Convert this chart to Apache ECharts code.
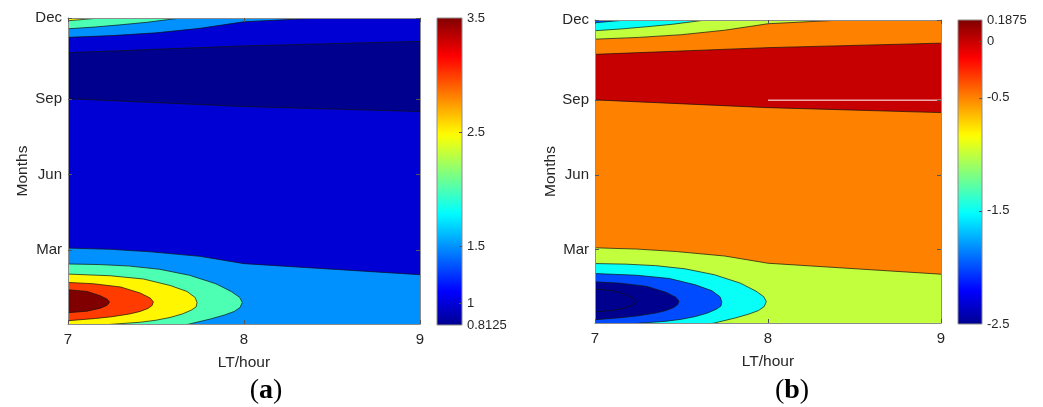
<!DOCTYPE html>
<html>
<head>
<meta charset="utf-8">
<script src="https://cdn.jsdelivr.net/npm/echarts@6/dist/echarts.min.js"></script>
<style>
html,body{margin:0;padding:0;background:#fff;}
#chart{width:1043px;height:407px;}
</style>
</head>
<body>
<div id="chart"></div>
<script>
// ---------- data ----------
const LT_TICKS = [7, 8, 9];
const MONTH_TICKS = [2.95, 5.95, 8.95, 12.17];
const MONTH_LABELS = ['Mar', 'Jun', 'Sep', 'Dec'];
const MONTH_RANGE = [0, 12.17];
const LT_RANGE = [7, 9];

const CB_A_RANGE = [0.8125, 3.5];
const CB_A_LABELS = [0.8125, 1, 1.5, 2.5, 3.5];
const CB_B_RANGE = [-2.5, 0.1875];
const CB_B_LABELS = [-2.5, -1.5, -0.5, 0, 0.1875];

// contour lines, points are [LT hour, month]
const line1Upper = [[6.95,10.78],[7,10.79],[8,11.06],[9,11.24],[9.05,11.25]];
const line1Lower = [[6.95,8.98],[7,8.96],[8,8.65],[9,8.45],[9.05,8.44]];
const line1Corner = [[8.5,-0.05],[8.6,0],[9,0.2],[9.05,0.22]];
const line15Top = [[6.95,11.38],[7,11.40],[7.25,11.47],[7.5,11.58],[7.75,11.76],[8,12.02],[8.43,12.17],[8.6,12.22]];
const line2Top = [[6.95,11.72],[7,11.74],[7.15,11.81],[7.3,11.9],[7.45,12.0],[7.64,12.17],[7.7,12.22]];
const line25Top = [[6.95,12.03],[7,12.06],[7.1,12.12],[7.18,12.17],[7.25,12.22]];
const line15Bottom = [[6.95,3.03],[7,3.02],[7.24,2.97],[7.47,2.87],[7.75,2.69],[8,2.40],[9,1.96],[9.05,1.94]];
const line2Loop = [[6.95,2.39],[7,2.388],[7.18,2.364],[7.35,2.304],[7.52,2.177],[7.69,1.939],[7.84,1.601],[7.93,1.283],[7.975,1.06],[7.99,0.86],[7.978,0.66],[7.945,0.50],[7.89,0.36],[7.81,0.2],[7.69,0],[7.58,-0.15]];
const line25Loop = [[6.95,1.99],[7,1.986],[7.24,1.919],[7.43,1.788],[7.58,1.533],[7.676,1.295],[7.723,1.05],[7.733,0.85],[7.728,0.68],[7.70,0.55],[7.65,0.40],[7.58,0.26],[7.5,0.15],[7.41,0.07],[7.27,0],[7.15,-0.06]];
const line3Loop = [[6.95,1.67],[7,1.653],[7.145,1.601],[7.3,1.47],[7.41,1.232],[7.467,1.033],[7.485,0.88],[7.478,0.74],[7.455,0.62],[7.41,0.5],[7.35,0.40],[7.25,0.29],[7.157,0.22],[7,0.13],[6.95,0.11]];
const line35Loop = [[6.95,1.38],[7,1.363],[7.108,1.295],[7.183,1.124],[7.223,0.985],[7.236,0.87],[7.223,0.747],[7.183,0.628],[7.108,0.509],[7,0.449],[6.95,0.44]];

// filled regions in paint order (same contour geometry in both panels)
const regionShapes = [
  {kind:'all'},
  {kind:'band', upper: line1Upper, lower: line1Lower},
  {kind:'below', line: line1Corner},
  {kind:'above', line: line15Top},
  {kind:'above', line: line2Top},
  {kind:'above', line: line25Top},
  {kind:'below', line: line15Bottom},
  {kind:'loop', line: line2Loop},
  {kind:'loop', line: line25Loop},
  {kind:'loop', line: line3Loop},
  {kind:'loop', line: line35Loop}
];
const regionValuesA = [1, 0.8125, 0.8125, 1.5, 2, 2.5, 1.5, 2, 2.5, 3, 3.5];
const regionValuesB = [-0.5, 0, 0, -1, -1.5, -2, -1, -1.5, -2, -2.5, -2.5];

const whiteLineB = [[8, 8.95], [9, 8.95]];

// ---------- helpers ----------
const OUT_X = [6.5, 9.5], OUT_Y = [-1, 13.5];
function regionPolygon(r) {
  if (r.kind === 'all') return [[OUT_X[0],OUT_Y[0]],[OUT_X[1],OUT_Y[0]],[OUT_X[1],OUT_Y[1]],[OUT_X[0],OUT_Y[1]]];
  if (r.kind === 'band') return r.upper.concat(r.lower.slice().reverse());
  const l = r.line, f = l[0], e = l[l.length-1];
  if (r.kind === 'above') return l.concat([[e[0], OUT_Y[1]], [f[0], OUT_Y[1]]]);
  if (r.kind === 'below') return l.concat([[e[0], OUT_Y[0]], [f[0], OUT_Y[0]]]);
  return l.concat([[f[0], e[1]]]);
}
function jet(t) {
  t = Math.min(1, Math.max(0, t));
  const u = (1 + 63 * t) / 64;
  const f = c => Math.round(255 * Math.min(1, Math.max(0, 1.5 - Math.abs(4 * u - c))));
  return 'rgb(' + f(3) + ',' + f(2) + ',' + f(1) + ')';
}
const FONT = 'Liberation Sans, Arial, Helvetica, sans-serif';
const TXT = '#262626';
const BOX = '#8c8c8c';

function contourSeries(xi, yi, values, range) {
  return {
    type: 'custom', xAxisIndex: xi, yAxisIndex: yi, clip: true, silent: true, z: 2,
    data: regionShapes.map((r, i) => [i]),
    renderItem: function (params, api) {
      const i = params.dataIndex;
      const pts = regionPolygon(regionShapes[i]).map(p => api.coord(p));
      const cs = params.coordSys;
      return {
        type: 'group',
        clipPath: {type: 'rect', shape: {x: cs.x, y: cs.y, width: cs.width, height: cs.height}},
        children: [{
          type: 'polygon', shape: {points: pts},
          style: {fill: jet((values[i] - range[0]) / (range[1] - range[0])),
                  stroke: i === 0 ? null : '#111', lineWidth: 0.7}
        }]
      };
    }
  };
}
function colorbarSeries(xi, yi, range) {
  const stops = [];
  for (let k = 0; k <= 64; k++) { const o = k / 64; stops.push({offset: o, color: jet(1 - o)}); }
  return {
    type: 'custom', xAxisIndex: xi, yAxisIndex: yi, silent: true, z: 2,
    data: [[0]],
    renderItem: function (params, api) {
      const p0 = api.coord([0, range[1]]), p1 = api.coord([1, range[0]]);
      return {
        type: 'rect',
        shape: {x: p0[0], y: p0[1], width: p1[0] - p0[0], height: p1[1] - p0[1]},
        style: {fill: {type: 'linear', x: 0, y: 0, x2: 0, y2: 1, colorStops: stops}, stroke: BOX, lineWidth: 1}
      };
    }
  };
}
function xAxes(gi) {
  return [{
    type: 'value', gridIndex: gi, min: LT_RANGE[0], max: LT_RANGE[1], interval: 1, z: 10,
    name: 'LT/hour', nameLocation: 'middle', nameGap: 31,
    nameTextStyle: {color: TXT, fontSize: 15.5, fontFamily: FONT},
    axisLine: {show: true, onZero: false, lineStyle: {color: BOX}},
    axisTick: {show: true, inside: true, length: 4, lineStyle: {color: '#555'}},
    axisLabel: {color: TXT, fontSize: 15, fontFamily: FONT, margin: 8},
    splitLine: {show: false}
  }, {
    type: 'value', gridIndex: gi, position: 'top', min: LT_RANGE[0], max: LT_RANGE[1], interval: 1, z: 10,
    axisLine: {show: true, onZero: false, lineStyle: {color: BOX}},
    axisTick: {show: true, inside: true, length: 4, lineStyle: {color: '#555'}},
    axisLabel: {show: false}, splitLine: {show: false}
  }];
}
function yAxes(gi, nameGap) {
  return [{
    type: 'value', gridIndex: gi, min: MONTH_RANGE[0], max: MONTH_RANGE[1], z: 10,
    name: 'Months', nameLocation: 'middle', nameGap: nameGap,
    nameTextStyle: {color: TXT, fontSize: 15.5, fontFamily: FONT},
    axisLine: {show: true, onZero: false, lineStyle: {color: BOX}},
    axisTick: {show: true, inside: true, length: 4, customValues: MONTH_TICKS, lineStyle: {color: '#555'}},
    axisLabel: {color: TXT, fontSize: 15, fontFamily: FONT, margin: 6, customValues: MONTH_TICKS,
      formatter: v => { let b = 0; MONTH_TICKS.forEach((m, k) => { if (Math.abs(m - v) < Math.abs(MONTH_TICKS[b] - v)) b = k; }); return MONTH_LABELS[b]; }},
    splitLine: {show: false}
  }, {
    type: 'value', gridIndex: gi, position: 'right', min: MONTH_RANGE[0], max: MONTH_RANGE[1], z: 10,
    axisLine: {show: true, onZero: false, lineStyle: {color: BOX}},
    axisTick: {show: true, inside: true, length: 4, customValues: MONTH_TICKS, lineStyle: {color: '#555'}},
    axisLabel: {show: false}, splitLine: {show: false}
  }];
}
function cbX(gi) {
  return {type: 'value', gridIndex: gi, min: 0, max: 1, show: false, axisLine: {onZero: false}};
}
function cbY(gi, range, labels) {
  return {
    type: 'value', gridIndex: gi, position: 'right', min: range[0], max: range[1], z: 10,
    axisLine: {show: false, onZero: false},
    axisTick: {show: true, inside: true, length: 3, customValues: labels.slice(1, -1), lineStyle: {color: '#555'}},
    axisLabel: {color: TXT, fontSize: 13, fontFamily: FONT, margin: 5, customValues: labels, formatter: v => String(v)},
    splitLine: {show: false}
  };
}

const chart = echarts.init(document.getElementById('chart'), null, {renderer: 'canvas'});
chart.setOption({
  animation: false,
  backgroundColor: '#fff',
  grid: [
    {left: 68, top: 18, width: 352, height: 306, outerBoundsMode: 'none'},
    {left: 437, top: 18, width: 25, height: 307, outerBoundsMode: 'none'},
    {left: 595, top: 20, width: 346, height: 303, outerBoundsMode: 'none'},
    {left: 958, top: 20, width: 24, height: 304, outerBoundsMode: 'none'}
  ],
  xAxis: [].concat(xAxes(0), [cbX(1)], xAxes(2), [cbX(3)]),
  yAxis: [].concat(yAxes(0, 37), [cbY(1, CB_A_RANGE, CB_A_LABELS)], yAxes(2, 35), [cbY(3, CB_B_RANGE, CB_B_LABELS)]),
  series: [
    contourSeries(0, 0, regionValuesA, CB_A_RANGE),
    colorbarSeries(2, 2, CB_A_RANGE),
    contourSeries(3, 3, regionValuesB, CB_B_RANGE),
    colorbarSeries(5, 5, CB_B_RANGE),
    {type: 'line', xAxisIndex: 3, yAxisIndex: 3, data: whiteLineB, symbol: 'none', silent: true, z: 5,
     lineStyle: {color: '#ffffff', width: 1}}
  ],
  graphic: [
    {type: 'text', x: 266, y: 391, style: {text: '{p|(}{b|a}{p|)}', align: 'center', verticalAlign: 'middle',
      rich: {p: {fontFamily: 'Liberation Serif, Times New Roman, serif', fontSize: 28, fill: '#000'},
             b: {fontFamily: 'Liberation Serif, Times New Roman, serif', fontSize: 28, fontWeight: 'bold', fill: '#000'}}}},
    {type: 'text', x: 792, y: 391, style: {text: '{p|(}{b|b}{p|)}', align: 'center', verticalAlign: 'middle',
      rich: {p: {fontFamily: 'Liberation Serif, Times New Roman, serif', fontSize: 28, fill: '#000'},
             b: {fontFamily: 'Liberation Serif, Times New Roman, serif', fontSize: 28, fontWeight: 'bold', fill: '#000'}}}}
  ]
});
</script>
</body>
</html>
